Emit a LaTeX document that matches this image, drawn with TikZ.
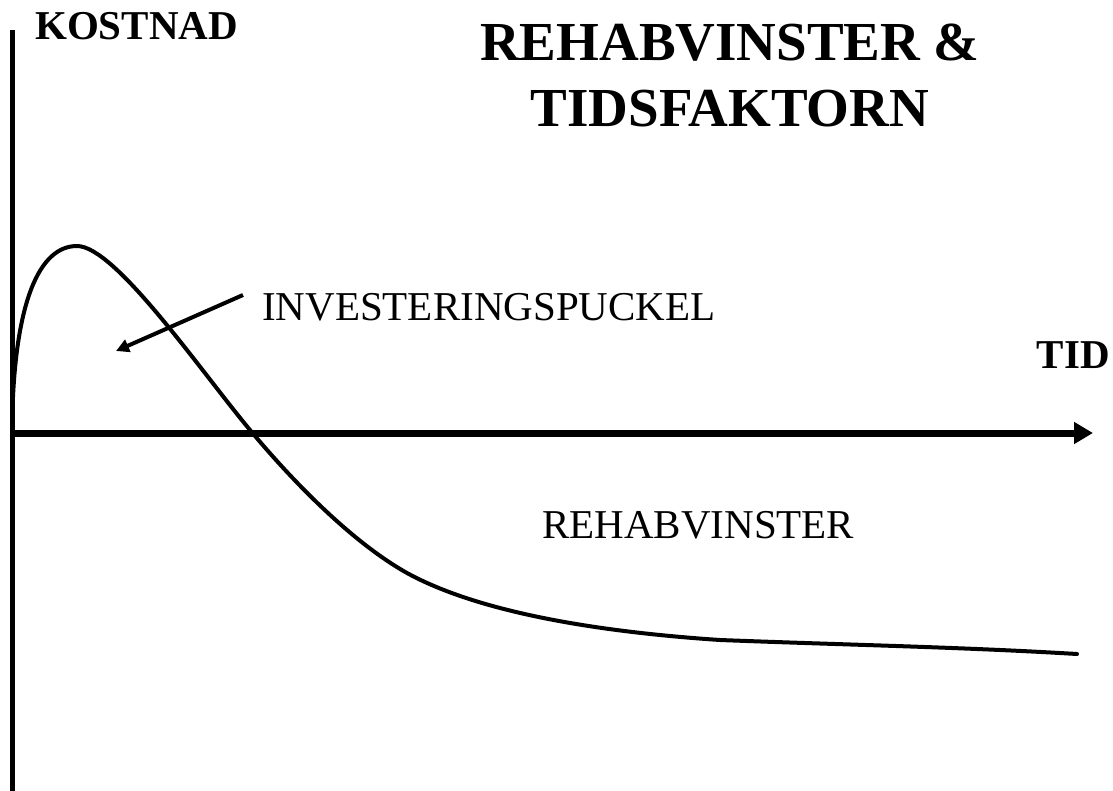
\documentclass[tikz,border=0pt]{standalone}
\usepackage{fontspec}
\setmainfont{Liberation Serif}
\usetikzlibrary{arrows.meta}

\begin{document}
\begin{tikzpicture}[x=1pt,y=-1pt]
  \tikzstyle{axis}=[line width=5pt]
  \tikzstyle{timeaxis}=[line width=7pt,-{Triangle[length=19pt,width=21pt]}]
  \tikzstyle{curve}=[line width=4pt,line cap=round]
  \tikzstyle{pointer}=[line width=4pt,-{Triangle[length=13pt,width=13pt]}]
  \tikzstyle{boldlabel}=[anchor=base west,inner sep=0pt,font=\fontsize{41}{49}\selectfont\bfseries]
  \tikzstyle{label}=[anchor=base west,inner sep=0pt,font=\fontsize{41}{49}\selectfont]
  \useasboundingbox[fill=white] (0,0) rectangle (1113,791);

  \coordinate (ytop) at (12,30);
  \coordinate (ybot) at (12,791);
  \coordinate (origin) at (12,433);
  \coordinate (xend) at (1093,433);
  \coordinate (ptail) at (243,295);
  \coordinate (ptip) at (116,351);
  \coordinate (peak) at (77,246);
  \coordinate (cross) at (250,430);

  \node[boldlabel] (kostnad) at (35,40) {KOSTNAD};
  \node[boldlabel,anchor=base east] (tid) at (1110,368) {TID};
  \node[anchor=north,inner sep=0pt,align=center,
        font=\fontsize{55}{66}\selectfont\bfseries] (title) at (730,24)
        {REHABVINSTER \&\\TIDSFAKTORN};
  \node[label] (puckel) at (262,320) {INVESTERINGSPUCKEL};
  \node[label] (vinster) at (542,538) {REHABVINSTER};

  \draw[axis] (ytop) -- (ybot);
  \draw[timeaxis] (origin) -- (xend);

  \draw[curve] (origin) .. controls (13,300) and (40,246) .. (peak)
    .. controls (115,246) and (200,370) .. (cross)
    .. controls (300,490) and (357,545) .. (407,573)
    .. controls (480,613) and (600,632) .. (720,640)
    .. controls (850,645) and (960,647) .. (1077,654);

  \draw[pointer] (ptail) -- (ptip);
\end{tikzpicture}
\end{document}
